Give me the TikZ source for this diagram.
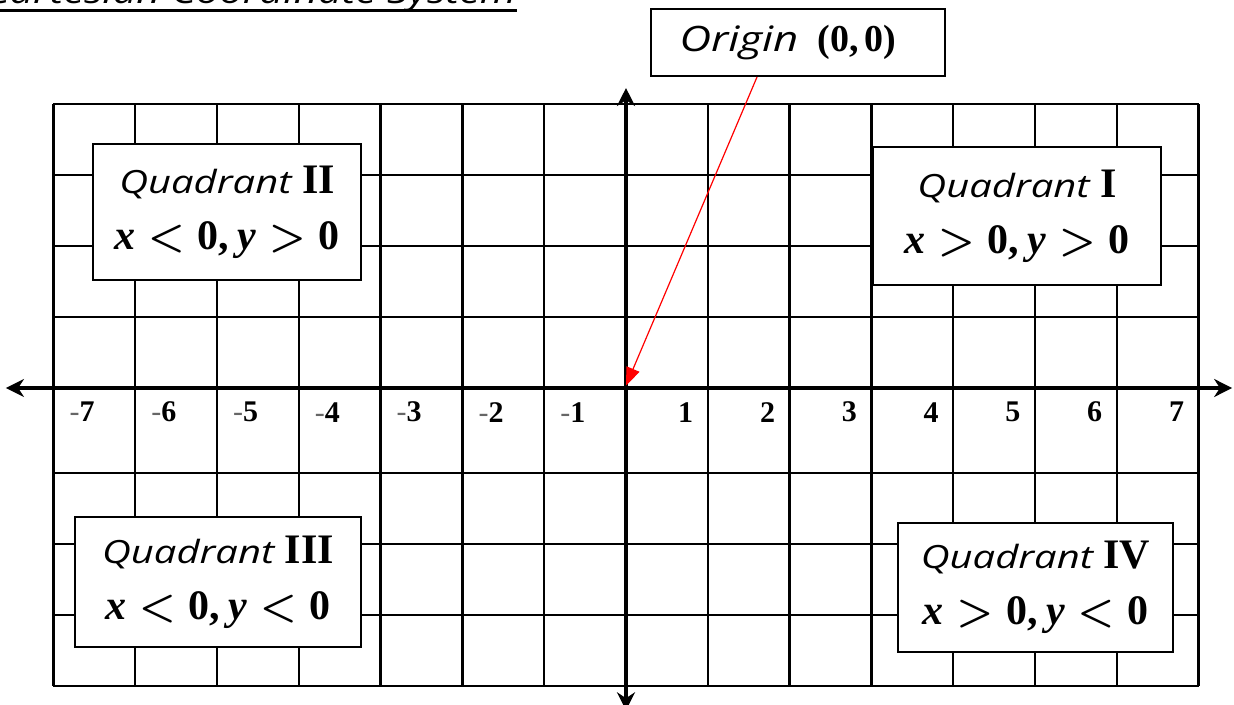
\documentclass[tikz,border=0pt]{standalone}
\usepackage{fontspec}
\usetikzlibrary{arrows.meta,positioning}
\newfontfamily\handfont[FakeStretch=1.25]{Open Sans}
\newfontfamily\numfont{Liberation Serif}
\newcommand{\qword}{{\fontsize{16}{18}\selectfont\handfont\mdseries\itshape Quadrant}}
\newcommand{\lt}{\hspace{0.3em}$<$\hspace{0.3em}}
\newcommand{\gt}{\hspace{0.3em}$>$\hspace{0.3em}}

\begin{document}
\begin{tikzpicture}[
  x=40.9pt, y=35.5pt,
  gridline/.style={line width=1.2pt},
  axisline/.style={line width=2.4pt,
                   {Stealth[length=9pt,width=9pt]}-{Stealth[length=9pt,width=9pt]}},
  qbox/.style={draw, line width=1pt, fill=white, align=center, inner sep=0pt,
               font=\fontsize{21}{28}\selectfont\numfont\bfseries\boldmath},
  numlbl/.style={font=\fontsize{15}{16}\selectfont\numfont\bfseries},
  arr/.style={-{Triangle[length=9pt,width=7pt]}, red, line width=0.6pt},
]
\useasboundingbox (-7.653,-4.451) rectangle (7.433,5.465);

% Title (cut at the top)
\node[anchor=base west, inner sep=0pt, font=\fontsize{16.7}{18}\selectfont\handfont\itshape]
  (title) at (-7.84,5.41) {Cartesian Coordinate System};
\draw[line width=1.5pt] ([yshift=-3.5pt]title.base west) -- ([yshift=-3.5pt]title.base east);

% Grid
\foreach \x in {-7,...,-1,1,2,...,7}
  \draw[gridline] (\x,4) -- (\x,-4.2);
\foreach \y in {4,3,2,1,-1.2,-2.2,-3.2,-4.2}
  \draw[gridline] (-7,\y) -- (7,\y);

% Axes
\coordinate (O) at (0,0);
\draw[axisline] (-7.58,0) -- (7.41,0);
\draw[axisline] (0,-4.54) -- (0,4.225);

% Tick labels
\foreach \k in {1,...,7} {
  \node[numlbl] (pos\k) at (\k-0.27,-0.34) {\k};
  \node[numlbl] (neg\k) at (-\k+0.35,-0.34) {{\mdseries\color{black!60}-}\k};
}

% Quadrant boxes
\node[qbox, minimum width=134pt, minimum height=68pt] (q2) at (-4.878,2.479)
  {\qword\ II\\ \textit{x}\lt0,\hspace{0.2em}\textit{y}\gt0};
\node[qbox, minimum width=144pt, minimum height=69pt] (q1) at (4.78,2.42)
  {\qword\ I\\ \textit{x}\gt0,\hspace{0.2em}\textit{y}\gt0};
\node[qbox, minimum width=143pt, minimum height=65pt] (q3) at (-4.988,-2.732)
  {\qword\ III\\ \textit{x}\lt0,\hspace{0.2em}\textit{y}\lt0};
\node[qbox, minimum width=137.5pt, minimum height=64.5pt] (q4) at (5.006,-2.81)
  {\qword\ IV\\ \textit{x}\gt0,\hspace{0.2em}\textit{y}\lt0};

% Origin
\node[qbox, minimum width=147pt, minimum height=33.5pt, font=\fontsize{19}{20}\selectfont\numfont\bfseries]
  (origin) at (2.103,4.866)
  {{\fontsize{17.5}{20}\selectfont\handfont\mdseries\itshape Origin}~~(0,\,0)\hspace{10pt}};
\draw[arr] ([xshift=-20.5pt]origin.south) -- ([yshift=1.2pt]O);
\end{tikzpicture}
\end{document}
